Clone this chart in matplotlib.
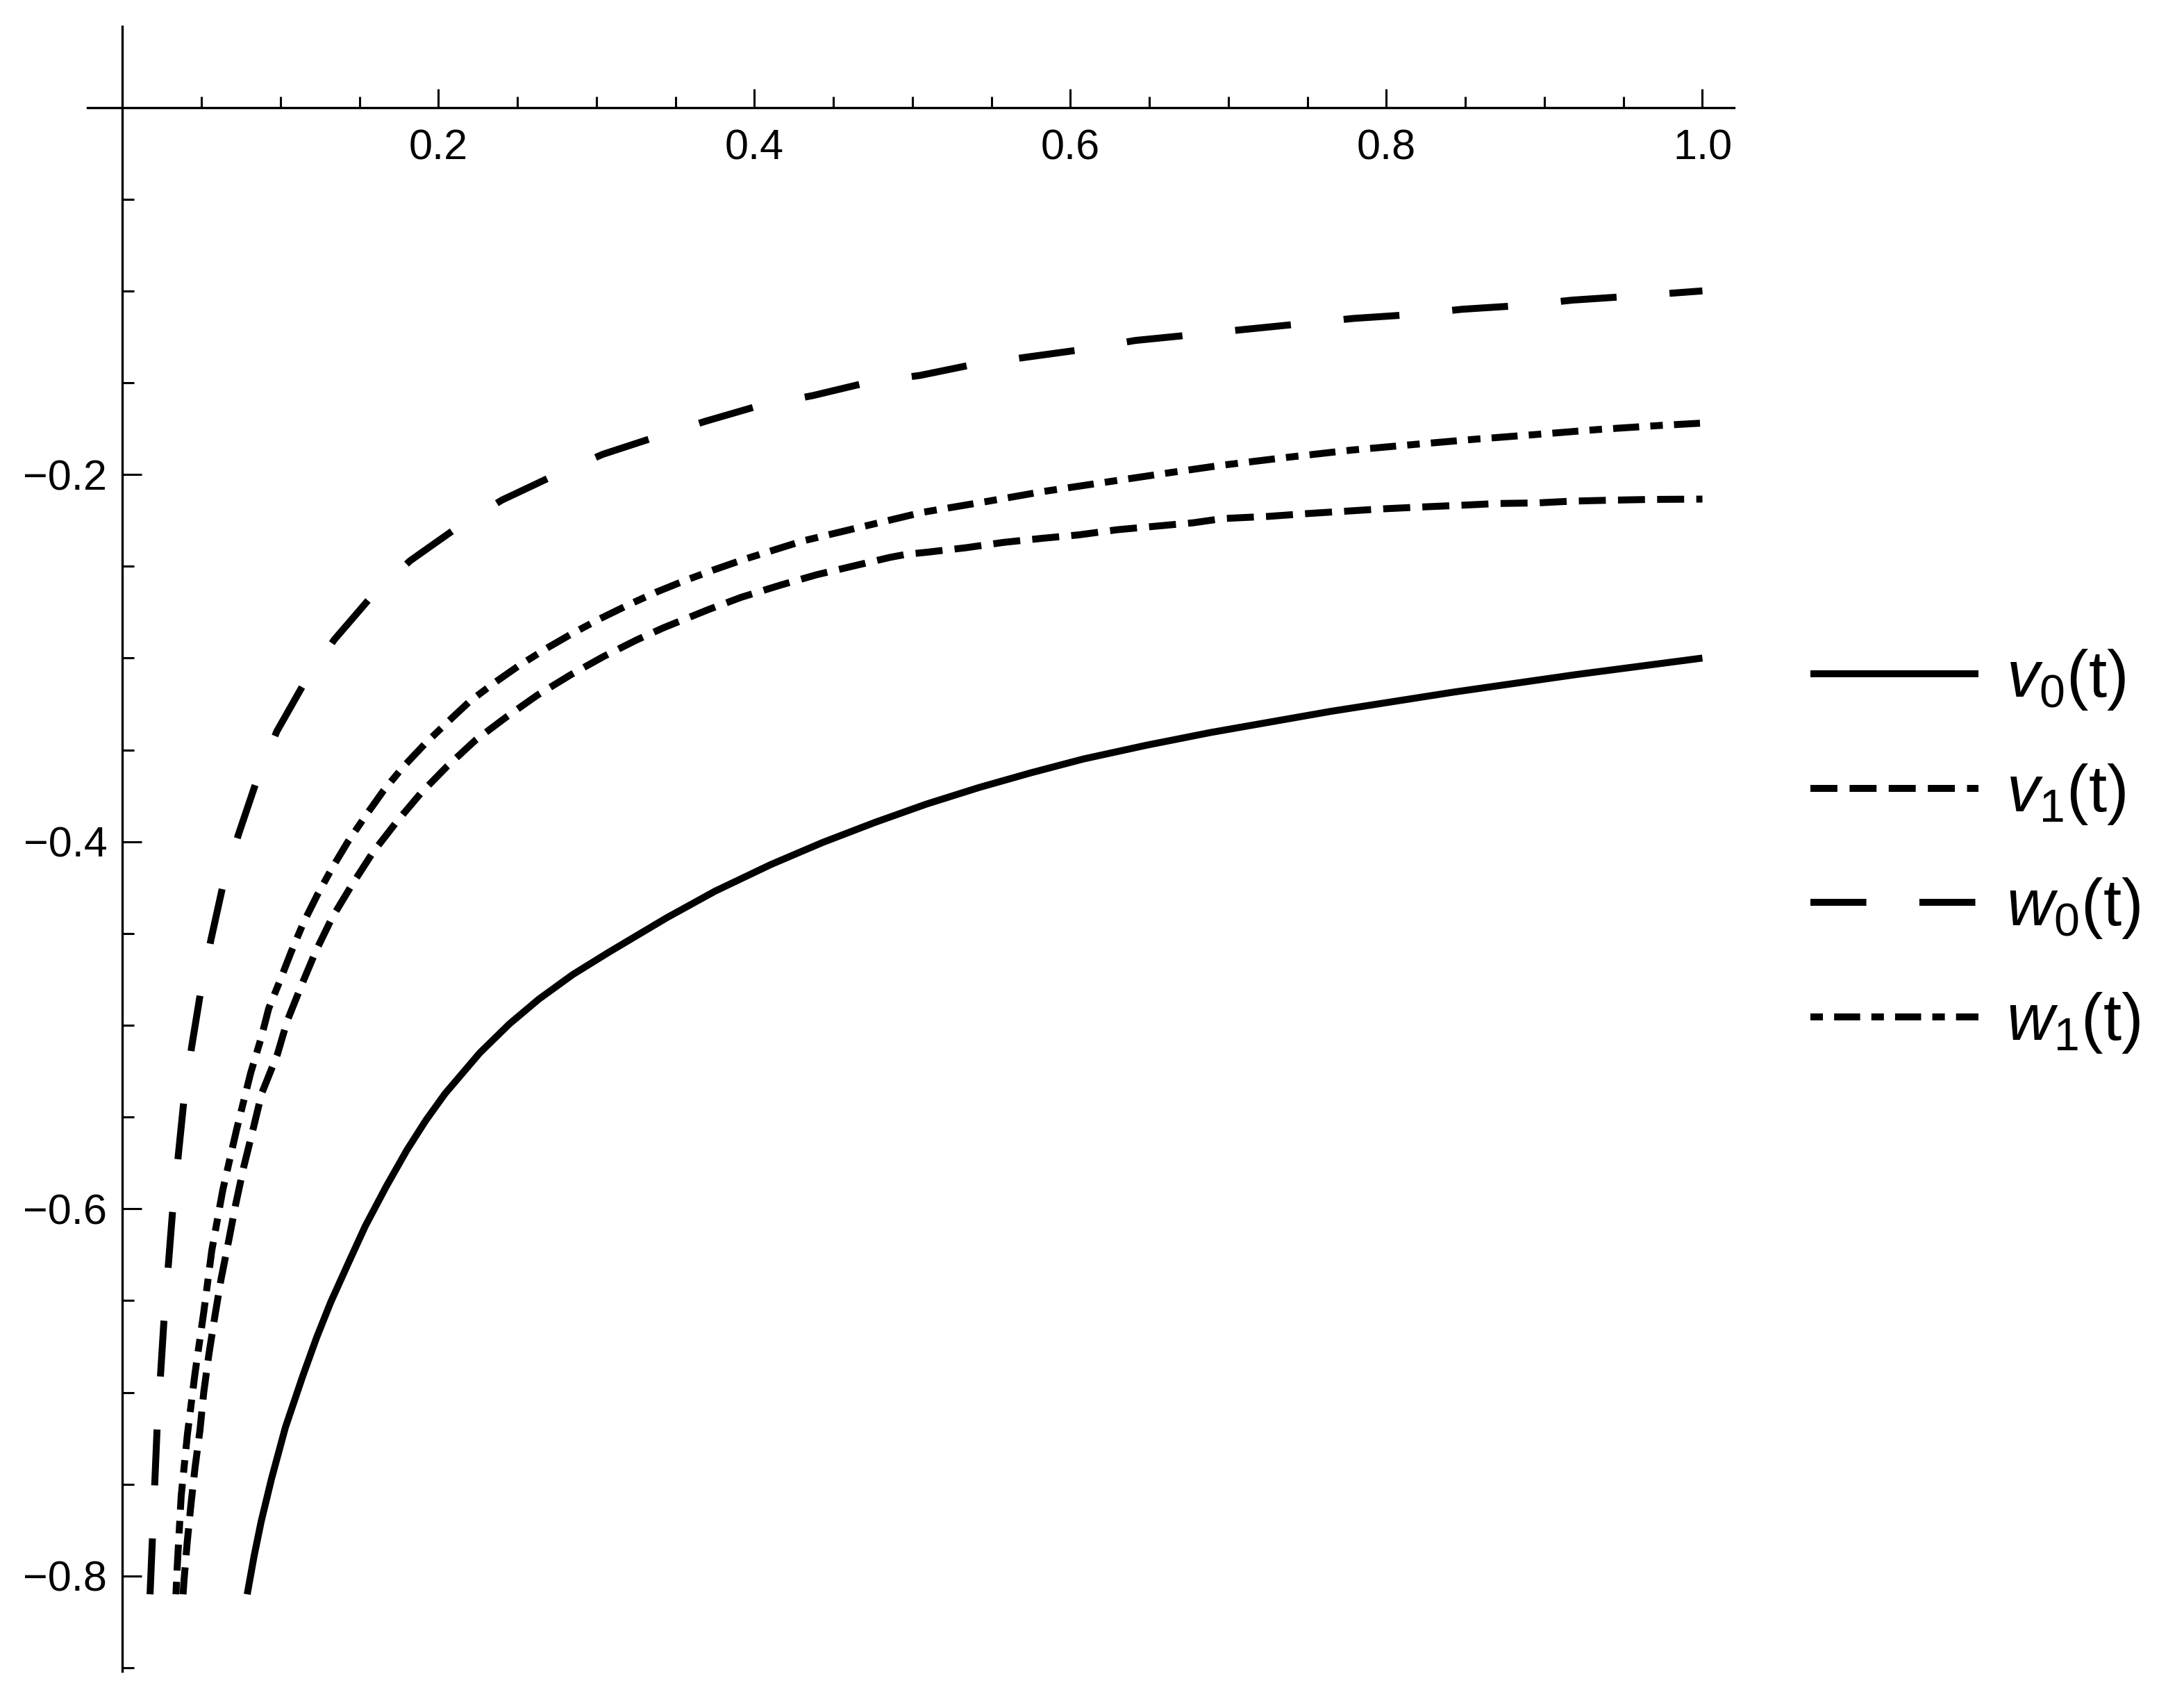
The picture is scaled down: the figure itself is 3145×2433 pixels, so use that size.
import matplotlib
matplotlib.use('Agg')
import matplotlib.pyplot as plt
from matplotlib.ticker import FixedLocator

# ---------------- data ----------------
v0_t = [0.0789, 0.0833, 0.0877, 0.0943, 0.1031, 0.1141, 0.1229, 0.1317, 0.1427, 0.1536,
        0.1668, 0.180, 0.192, 0.2042, 0.2262, 0.245, 0.2635, 0.285, 0.3075, 0.3444,
        0.375, 0.4103, 0.443, 0.4763, 0.509, 0.5422, 0.575, 0.6081, 0.648, 0.689,
        0.765, 0.8429, 0.92, 1.0]
v0_y = [-0.810, -0.789, -0.7705, -0.747, -0.719, -0.691, -0.670, -0.651, -0.630, -0.6095,
        -0.588, -0.568, -0.5518, -0.5372, -0.515, -0.4992, -0.4858, -0.4724, -0.4604, -0.4415,
        -0.427, -0.4125, -0.4005, -0.3895, -0.3795, -0.3705, -0.3625, -0.355, -0.3475, -0.3405,
        -0.329, -0.3185, -0.309, -0.300]

v1_t = [0.0383, 0.0389, 0.0409, 0.0433, 0.0459, 0.0490, 0.0514, 0.0547, 0.0585, 0.0624,
        0.0672, 0.0716, 0.0767, 0.0826, 0.0881, 0.098, 0.1042, 0.1130, 0.1222, 0.1327,
        0.1453, 0.1585, 0.1734, 0.1888, 0.2053, 0.2233, 0.2431, 0.2624, 0.2833, 0.3046,
        0.3255, 0.3424, 0.3708, 0.3916, 0.4163, 0.4394, 0.4624, 0.4855, 0.496, 0.5097,
        0.5338, 0.5576, 0.5818, 0.6053, 0.6295, 0.6536, 0.6778, 0.6965, 0.7257, 0.7499,
        0.774, 0.7983, 0.8224, 0.8466, 0.8708, 0.895, 0.9181, 0.9423, 0.9664, 1.0]
v1_y = [-0.810, -0.8024, -0.7819, -0.761, -0.7408, -0.7206, -0.6999, -0.679, -0.6581, -0.6381,
        -0.6173, -0.5976, -0.5772, -0.5567, -0.5371, -0.5159, -0.4977, -0.4788, -0.4599, -0.4413,
        -0.4234, -0.4058, -0.3893, -0.3736, -0.3591, -0.3448, -0.332, -0.3203, -0.3093, -0.2991,
        -0.2901, -0.2835, -0.2736, -0.2669, -0.2603, -0.2546, -0.2499, -0.2452, -0.2435, -0.2423,
        -0.2399, -0.237, -0.2348, -0.2329, -0.2301, -0.2282, -0.2263, -0.224, -0.2228, -0.2213,
        -0.220, -0.2187, -0.2177, -0.2168, -0.2158, -0.2155, -0.2145, -0.214, -0.2136, -0.2134]

w0_t = [0.0174, 0.0218, 0.0262, 0.0316, 0.0387, 0.0437, 0.0492, 0.0558, 0.0635, 0.0734,
        0.0844, 0.0976, 0.1141, 0.134, 0.157, 0.182, 0.210, 0.240, 0.272, 0.304,
        0.336, 0.369, 0.401, 0.437, 0.471, 0.505, 0.539, 0.573, 0.607, 0.641,
        0.676, 0.710, 0.745, 0.779, 0.814, 0.848, 0.884, 0.918, 0.953, 1.0]
w0_y = [-0.810, -0.721, -0.661, -0.602, -0.542, -0.512, -0.483, -0.454, -0.424, -0.396,
        -0.368, -0.340, -0.315, -0.290, -0.267, -0.247, -0.230, -0.214, -0.201, -0.189,
        -0.180, -0.171, -0.163, -0.157, -0.150, -0.146, -0.140, -0.136, -0.132, -0.127,
        -0.124, -0.121, -0.118, -0.115, -0.113, -0.110, -0.108, -0.105, -0.103, -0.100]

w1_t = [0.0338, 0.0345, 0.0371, 0.0411, 0.0459, 0.0514, 0.0565, 0.0635, 0.0723, 0.0811,
        0.0877, 0.0925, 0.0998, 0.1068, 0.1145, 0.1233, 0.1327, 0.1426, 0.1541, 0.1651,
        0.1778, 0.1910, 0.2046, 0.2196, 0.2350, 0.2508, 0.2684, 0.2849, 0.3024, 0.3202,
        0.3378, 0.3565, 0.3741, 0.3932, 0.4306, 0.468, 0.5064, 0.545, 0.5833, 0.623,
        0.6614, 0.6955, 0.7389, 0.778, 0.8169, 0.856, 0.895, 0.934, 0.973, 1.0]
w1_y = [-0.810, -0.7966, -0.7565, -0.7225, -0.6894, -0.6563, -0.6226, -0.5895, -0.5564, -0.526,
        -0.507, -0.4909, -0.4754, -0.4599, -0.4442, -0.429, -0.4143, -0.4001, -0.3856, -0.3723,
        -0.3591, -0.3471, -0.3358, -0.3237, -0.3137, -0.3042, -0.2947, -0.2865, -0.2785, -0.2710,
        -0.2641, -0.2576, -0.2520, -0.2463, -0.2362, -0.2285, -0.2206, -0.215, -0.2092, -0.2041,
        -0.1992, -0.195, -0.1905, -0.1867, -0.1837, -0.1808, -0.1782, -0.1755, -0.1733, -0.1720]

labels = [r'$\mathit{v}_{0}\mathrm{(t)}$', r'$\mathit{v}_{1}\mathrm{(t)}$',
          r'$\mathit{w}_{0}\mathrm{(t)}$', r'$\mathit{w}_{1}\mathrm{(t)}$']

x_major = [0.2, 0.4, 0.6, 0.8, 1.0]
x_major_labels = ['0.2', '0.4', '0.6', '0.8', '1.0']
x_minor = [0.05, 0.1, 0.15, 0.25, 0.3, 0.35, 0.45, 0.5, 0.55, 0.65, 0.7, 0.75, 0.85, 0.9, 0.95]
y_major = [-0.2, -0.4, -0.6, -0.8]
y_major_labels = ['\u22120.2', '\u22120.4', '\u22120.6', '\u22120.8']
y_minor = [-0.05, -0.1, -0.15, -0.25, -0.3, -0.35, -0.45, -0.5, -0.55, -0.65, -0.7, -0.75, -0.85]

# ---------------- style ----------------
plt.rcParams['font.family'] = ['Liberation Sans', 'DejaVu Sans']
plt.rcParams['mathtext.fontset'] = 'custom'
plt.rcParams['mathtext.rm'] = 'Liberation Sans'
plt.rcParams['mathtext.it'] = 'Liberation Sans:italic'
plt.rcParams['lines.scale_dashes'] = False
plt.rcParams['axes.unicode_minus'] = True

fig = plt.figure(figsize=(15.725, 12.165), dpi=200)
ax = fig.add_axes([0.0402, 0.0110, 0.7539, 0.9734])

LW = 3.6
h_v0, = ax.plot(v0_t, v0_y, color='black', lw=LW, solid_capstyle='butt', solid_joinstyle='round')
h_v1, = ax.plot(v1_t, v1_y, color='black', lw=LW, linestyle=(0, (14.0, 6.3)), dash_capstyle='butt')
h_w0, = ax.plot(w0_t, w0_y, color='black', lw=LW, linestyle=(0, (29.0, 27.5)), dash_capstyle='butt')
h_w1, = ax.plot(w1_t, w1_y, color='black', lw=LW, linestyle=(0, (6.5, 5.8, 13.5, 5.8)), dash_capstyle='butt')

ax.set_xlim(-0.022, 1.0202)
ax.set_ylim(-0.852, 0.0441)

for s in ['top', 'right']:
    ax.spines[s].set_visible(False)
ax.spines['left'].set_position(('data', 0))
ax.spines['bottom'].set_position(('data', 0))
for s in ['left', 'bottom']:
    ax.spines[s].set_linewidth(1.2)
    ax.spines[s].set_color('black')

ax.xaxis.set_major_locator(FixedLocator(x_major))
ax.set_xticklabels(x_major_labels)
ax.xaxis.set_minor_locator(FixedLocator(x_minor))
ax.yaxis.set_major_locator(FixedLocator(y_major))
ax.set_yticklabels(y_major_labels)
ax.yaxis.set_minor_locator(FixedLocator(y_minor))

ax.tick_params(axis='x', which='major', direction='in', length=9.6, width=1.1, pad=11, labelsize=22)
ax.tick_params(axis='x', which='minor', direction='in', length=5.6, width=1.1)
ax.tick_params(axis='y', which='major', direction='in', length=10, width=1.1, pad=8, labelsize=22)
ax.tick_params(axis='y', which='minor', direction='in', length=6, width=1.1)

ax.legend([h_v0, h_v1, h_w0, h_w1], labels, loc='center left',
          bbox_to_anchor=(0.829, 0.4963), bbox_transform=fig.transFigure,
          frameon=False, fontsize=34, handlelength=2.56, handletextpad=0.42,
          labelspacing=0.76, borderpad=0, borderaxespad=0)

fig.savefig('out.png', dpi=200)
